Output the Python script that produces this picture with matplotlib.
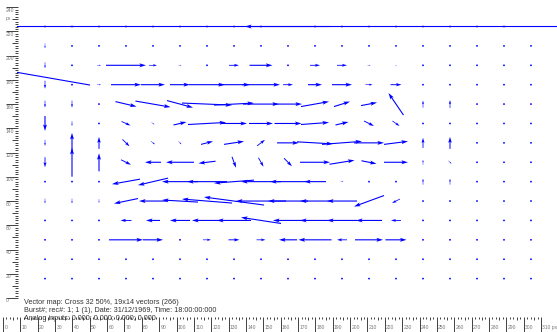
import numpy as np
import matplotlib
matplotlib.use("Agg")
import matplotlib.pyplot as plt
from matplotlib.patches import Rectangle

# ---------------- data (image px units) ----------------
x_grid = np.arange(16, 320, 16)        # 19 columns
y_grid = np.arange(224, 0, -16)        # 14 rows, top -> bottom

U_rows = [
    [0, 0, 0, 0, 0, 0, 0, 0, 0, -51, 0, 0, 0, 0, 0, 0, 0, 0, -652],
    [0] * 19,
    [0, 0, 2.4, 23.7, 4.7, 1.8, 0, 5.9, 13.6, 0, 5.9, 5.9, 1.8, 1.2, 0, 0, 0, 0, 0],
    [0, 0, 2.4, 17.8, 14.2, 11.9, 21.3, 19.0, 22.5, 5.9, 8.3, 11.9, 4.2, 6.5, 0, 0, 0, 0, 0],
    [0, 0, 0, 12.5, 20.8, 15.4, 29.7, 23.7, 21.3, 16.6, 16.6, 9.5, 9.5, -8.9, 0, 0, 0, 0, 0],
    [0, 0, 0, 5.3, 1.8, 7.7, 22.5, 15.4, 14.2, 16.0, 16.6, 7.7, 5.9, 4.2, 0, 0, 0, 0, 0],
    [0, 0, 0, 4.2, 2.4, 1.8, 7.1, 11.9, 4.7, 13.0, 21.3, 23.7, 17.8, 14.2, 0, 0, 0, 0, 0],
    [0, 0, 0, 5.9, -9.5, -16.6, -10.1, 2.4, 3.0, 4.7, 17.8, 14.8, 8.9, 14.2, 0, 1.8, 0, 0, 0],
    [0, 0, 0, -16.6, -17.8, -21.3, -23.7, -23.7, -23.7, -21.3, -13.0, 1.8, 0, 0, 0, 0, 0, 0, 0],
    [0, 0, 0, -14.2, -16.6, -21.3, -29.7, -35.6, -29.7, -23.7, -17.8, -17.8, -17.8, -4.7, 0, 0, 0, 0, 0],
    [0, 0, 0, -6.5, -8.3, -11.9, -17.8, -20.2, -23.7, -17.8, -17.8, -17.8, -15.4, -5.9, 0, 0, 0, 0, 0],
    [0, 0, 0, 20.2, 11.9, 0, 4.7, 6.5, 5.3, -10.7, -19.6, -5.9, 16.6, 12.5, 0, 0, 0, 0, 0],
    [0] * 19,
    [0] * 19,
]
V_rows = [
    [0] * 19,
    [-4.1, 0, 0, 0, 0, 0, 0, 0, 0, 0, 0, 0, 0, 0, 0, 0, 0, 0, 0],
    [-5.0, 0, 0, 0, 0, 0, 0, 0, 0, 0, 0, 0, 0, 0, 0, 0, 0, 0, 0],
    [-6.6, 0, 0, 0, 0, 0, 0, 0, 0, 0, 0, 0, 0, 0, 0, 0, 0, 0, 0],
    [-5.8, -5.8, 0, -4.1, -5.0, -5.8, -1.7, 1.7, 0, 0, 4.1, 4.1, 2.5, 18.2, 5.8, 6.6, 0, 0, 0],
    [-12.4, -4.1, 0, -3.3, -1.7, 2.5, 1.7, 0, 0, 0, 1.7, 2.5, -4.1, -4.1, 0, 0, 0, 0, 0],
    [-5.0, 16.5, 9.9, -5.8, -2.5, -2.5, 2.5, 2.5, 5.0, 0, -1.7, 2.5, 0, 2.5, 8.3, 9.9, 0, 0, 0],
    [-8.3, 23.9, 14.9, -4.1, 0, 0, -1.7, -9.1, -7.4, -6.6, 0, 3.3, -2.5, 0, 4.1, -2.5, 0, 0, 0],
    [0, 0, 0, -4.1, -5.8, 0, 0, -2.5, 0, 0, 0, 0, 0, 0, 5.0, 5.0, 0, 0, 0],
    [-4.1, -4.1, -3.3, -4.1, 0, 1.7, 3.3, 6.6, 0, 0, 0, 0, -9.1, -3.3, 0, 0, 0, 0, 0],
    [0, 0, 0, 0, 0, 0, 0, 0, 5.0, 0, 0, 0, 0, 0, 0, 0, 0, 0, 0],
    [0] * 19,
    [0] * 19,
    [0] * 19,
]
# stray vector (drawn from its tail)
extra_x = [42.7]
extra_y = [175.7]
extra_u = [-71.1]
extra_v = [17.2]

y_ruler_values = list(range(0, 241, 20))
x_ruler_values = list(range(0, 311, 10))

info_lines = [
    "Vector map: Cross 32 50%, 19x14 vectors (266)",
    "Burst#; rec#: 1; 1 (1), Date: 31/12/1969, Time: 18:00:00:000",
    "Analog inputs: 0.000; 0.000; 0.000; 0.000",
]

# ---------------- figure ----------------
W, H, DPI = 557, 332, 100
fig = plt.figure(figsize=(W / DPI, H / DPI), dpi=DPI)
fig.patch.set_facecolor("white")

ax = fig.add_axes([0, 0, 1, 1])
sx, ox = 1.6875, 18.0     # px per unit, px of x=0
sy, oy = 1.212, 298.0     # px per unit, px (from top) of y=0
ax.set_xlim(-ox / sx, (W - ox) / sx)
ax.set_ylim(-(H - oy) / sy, oy / sy)
ax.axis("off")

X, Y = np.meshgrid(x_grid, y_grid)
U = np.array(U_rows, dtype=float)
V = np.array(V_rows, dtype=float)

clip = Rectangle((-0.6, -2), 321, 244, transform=ax.transData)
blue = "#0000ff"
qkw = dict(angles="xy", scale_units="xy", scale=1, units="dots", width=1.1,
           headwidth=3.6, headlength=6, headaxislength=5, minlength=1.8,
           minshaft=2, color=blue)
q = ax.quiver(X, Y, U, V, pivot="middle", **qkw)
q.set_clip_path(clip)
q2 = ax.quiver(extra_x, extra_y, extra_u, extra_v, pivot="tail", **qkw)
q2.set_clip_path(clip)

# ---------------- y ruler ----------------
tick_c = "#222222"
lab_c = "#777777"
def px2x(p):
    return (p - ox) / sx
for v in range(0, 241, 2):
    if v % 20 == 0:
        x0 = px2x(6)
    elif v % 10 == 0:
        x0 = px2x(12)
    else:
        x0 = px2x(15)
    ax.plot([x0, px2x(18)], [v, v], color=tick_c, lw=0.6, solid_capstyle="butt")
for v in y_ruler_values:
    ax.text(px2x(6), v - 0.4, str(v), fontsize=3.6, color=lab_c, ha="left", va="top",
            family="Liberation Sans")
ax.text(px2x(6), 230.5, "px", fontsize=3.6, color=lab_c, ha="left", va="center",
        family="Liberation Sans")

# ---------------- x ruler ----------------
rax = fig.add_axes([0, 0, 1, 1])
rs, ro = 1.7355, 3.0
rax.set_xlim(-ro / rs, (W - ro) / rs)
rax.set_ylim(H, 0)
rax.axis("off")
for v in range(0, 311, 2):
    if v % 10 == 0:
        y1 = 332
    elif v % 10 == 6:
        y1 = 320
    else:
        y1 = 319
    rax.plot([v, v], [316.5, y1], color=tick_c, lw=0.6, solid_capstyle="butt")
for v in x_ruler_values:
    lab = str(v) + (" px" if v == 310 else "")
    rax.text(v + 1.3 / rs, 327.5, lab, fontsize=3.6, color=lab_c, ha="left",
             va="center", family="Liberation Sans")

# ---------------- info text ----------------
for i, s in enumerate(info_lines):
    fig.text(24 / W, 1 - (303 + 8 * i) / H, s, fontsize=5.2, color="#333333",
             ha="left", va="center", family="Liberation Sans")

fig.savefig("out.png", dpi=DPI, facecolor="white")
